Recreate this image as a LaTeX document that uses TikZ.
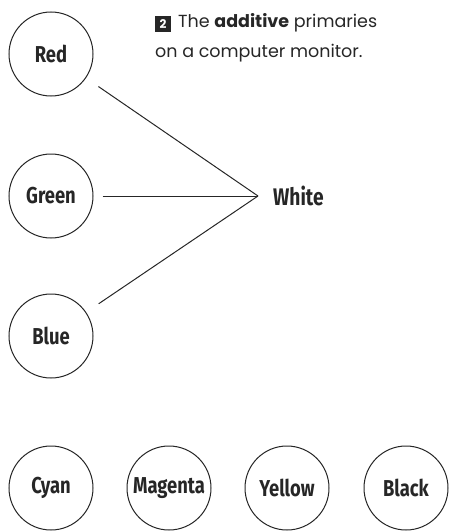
\documentclass[tikz,border=0pt]{standalone}
\usepackage{fontspec}
\usepackage{tikz}
\usetikzlibrary{positioning}

\newfontfamily\labelfont[FakeStretch=0.8, BoldFeatures={FakeStretch=0.8}]{Fira Sans}
\newfontfamily\capfont{Poppins}

\definecolor{inkgray}{HTML}{262626}

\tikzset{
  primary/.style={circle, draw=inkgray, line width=1pt, minimum size=84pt,
    inner sep=0pt, font=\labelfont\bfseries\fontsize{23}{23}\selectfont, text=inkgray},
  mixline/.style={inkgray, line width=1pt}
}

\begin{document}
\begin{tikzpicture}[x=1pt, y=-1pt]

    % Frame of the page
    \useasboundingbox (0,0) rectangle (450,532);

    % Additive primaries
    \node[primary] (red)   at (51,54)  {Red};
    \node[primary] (green) at (51,196) {Green};
    \node[primary] (blue)  at (51,336) {Blue};

    % Where they meet
    \coordinate (mix) at (258,196);
    \node[right=15pt of mix, font=\labelfont\fontsize{24}{24}\selectfont\bfseries,
          text=inkgray, inner sep=0pt] (white) {White};

    \draw[mixline, shorten <=15pt] (red)   -- (mix);
    \draw[mixline, shorten <=9pt]  (green) -- (mix);
    \draw[mixline, shorten <=15pt] (blue)  -- (mix);

    % Caption
    \node[fill=inkgray, text=white, minimum size=16pt, inner sep=0pt,
          font=\capfont\bfseries\fontsize{12}{12}\selectfont] (num) at (163,24) {2};
    \node[anchor=base west, inner sep=0pt, text=inkgray,
          font=\capfont\fontsize{17.5}{17.5}\selectfont] (capA) at (178,28)
          {The \textbf{additive} primaries};
    \node[anchor=base west, inner sep=0pt, text=inkgray,
          font=\capfont\fontsize{17.5}{17.5}\selectfont] (capB) at (155,58)
          {on a computer monitor.};

    % Subtractive primaries along the bottom
    \node[primary] (cyan)    at (51,488)  {Cyan};
    \node[primary] (magenta) at (169,488) {Magenta};
    \node[primary] (yellow)  at (287,488) {Yellow};
    \node[primary] (black)   at (406,488) {Black};

\end{tikzpicture}
\end{document}
